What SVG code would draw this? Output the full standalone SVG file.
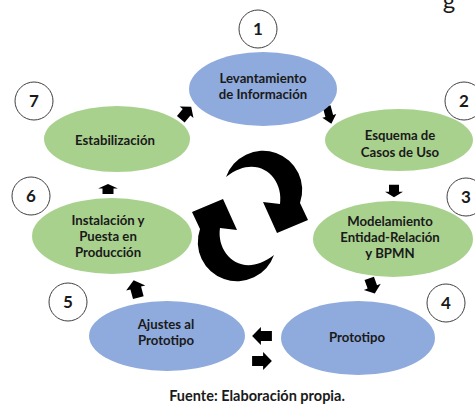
<svg xmlns="http://www.w3.org/2000/svg" width="475" height="404" viewBox="0 0 475 404">
<style>
.blue{fill:#8faadc}
.green{fill:#a9d18e}
.num{fill:#fff;stroke:#404040;stroke-width:1}
text{font-family:Lato,"Liberation Sans",sans-serif;font-weight:bold;fill:#1a1a1a;text-anchor:middle}
.lbl{font-size:13.2px}
.n{font-size:17px}
.arr{fill:#000}
</style>
<defs>
<path id="ba" d="M-9,-5 L1,-5 L1,-9 L9,0 L1,9 L1,5 L-9,5 Z"/>
<path id="cyc" d="M226,177 A38,38 0 0 1 300,203 L308,220 L277,233 L263,202 L280,204 C284,178 258,152 226,177 Z"/>
</defs>
<text x="449" y="9" style="font-size:24px;font-weight:normal">g</text>
<g id="connectors" class="arr">
<use href="#ba" transform="translate(186,113) rotate(-50) scale(0.9,1)"/>
<use href="#ba" transform="translate(329,115) rotate(75) scale(1,0.8)"/>
<use href="#ba" transform="translate(394,191) rotate(90) scale(0.7,1)"/>
<use href="#ba" transform="translate(372,286) rotate(70) scale(0.9,1)"/>
<use href="#ba" transform="translate(262,336) rotate(180) scale(1.1,1)"/>
<use href="#ba" transform="translate(262,361) scale(1.1,1)"/>
<use href="#ba" transform="translate(136,289) rotate(-105) scale(1,1.1)"/>
<use href="#ba" transform="translate(108,189) rotate(-90) scale(0.55,1.1)"/>
<use href="#cyc"/>
<use href="#cyc" transform="rotate(180 250 216)"/>
</g>
<g id="node1">
<ellipse class="blue" cx="263" cy="89" rx="74" ry="37"/>
<text class="lbl" x="263" y="83">Levantamiento</text>
<text class="lbl" x="263" y="99">de Información</text>
<circle class="num" cx="258" cy="29" r="19"/>
<text class="n" x="258" y="35">1</text>
</g>
<g id="node2">
<ellipse class="green" cx="399" cy="140" rx="74" ry="31"/>
<text class="lbl" x="400" y="140">Esquema de</text>
<text class="lbl" x="400" y="157">Casos de Uso</text>
<circle class="num" cx="464" cy="101" r="19"/>
<text class="n" x="464" y="107">2</text>
</g>
<g id="node3">
<ellipse class="green" cx="393" cy="239" rx="80" ry="38"/>
<text class="lbl" x="390" y="226">Modelamiento</text>
<text class="lbl" x="390" y="242">Entidad-Relación</text>
<text class="lbl" x="390" y="258">y BPMN</text>
<circle class="num" cx="466" cy="197" r="19"/>
<text class="n" x="466" y="203">3</text>
</g>
<g id="node4">
<ellipse class="blue" cx="358" cy="338" rx="77" ry="37"/>
<text class="lbl" x="357" y="342">Prototipo</text>
<circle class="num" cx="446" cy="303" r="19"/>
<text class="n" x="446" y="309">4</text>
</g>
<g id="node5">
<ellipse class="blue" cx="167" cy="336" rx="78" ry="35"/>
<text class="lbl" x="166" y="329">Ajustes al</text>
<text class="lbl" x="166" y="345">Prototipo</text>
<circle class="num" cx="68" cy="302" r="19"/>
<text class="n" x="68" y="308">5</text>
</g>
<g id="node6">
<ellipse class="green" cx="112" cy="236" rx="80" ry="38"/>
<text class="lbl" x="108" y="225">Instalación y</text>
<text class="lbl" x="108" y="241">Puesta en</text>
<text class="lbl" x="108" y="257">Producción</text>
<circle class="num" cx="31" cy="196" r="19"/>
<text class="n" x="31" y="202">6</text>
</g>
<g id="node7">
<ellipse class="green" cx="117" cy="139" rx="73" ry="33"/>
<text class="lbl" x="115" y="145">Estabilización</text>
<circle class="num" cx="34" cy="101" r="19"/>
<text class="n" x="34" y="107">7</text>
</g>
<text x="257" y="401" style="font-size:14.5px">Fuente: Elaboración propia.</text>
</svg>
